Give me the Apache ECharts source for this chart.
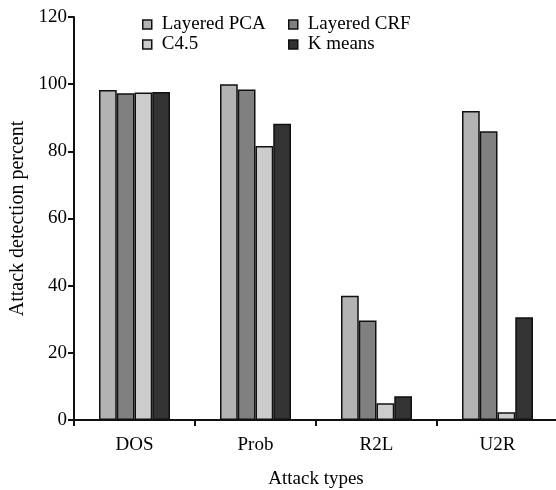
<!DOCTYPE html>
<html>
<head>
<meta charset="utf-8">
<script src="https://cdn.jsdelivr.net/npm/echarts@6/dist/echarts.min.js"></script>
<style>html,body{margin:0;padding:0;background:#fff}#c{width:556px;height:490px}</style>
</head>
<body>
<div id="c"></div>
<script>
const categories = ['DOS', 'Prob', 'R2L', 'U2R'];
const layeredPCA = [98.3, 100, 37, 92];
const layeredCRF = [97.3, 98.4, 29.6, 86];
const c45 = [97.5, 81.6, 5, 2.3];
const kMeans = [97.7, 88.2, 7.1, 30.6];
const yTicks = { min: 0, max: 120, interval: 20 };

const FONT = 'Liberation Serif';
const colors = { 'Layered PCA': '#b3b3b3', 'Layered CRF': '#808080', 'C4.5': '#cccccc', 'K means': '#333333' };
function mk(name, data) {
  return {
    name, type: 'bar', data, barWidth: 17.75, barGap: '0%',
    itemStyle: { color: colors[name], borderColor: '#111', borderWidth: 1.5 }
  };
}
const chart = echarts.init(document.getElementById('c'));
const legendCommon = {
  orient: 'vertical', itemWidth: 9, itemHeight: 9, itemGap: 1,
  textStyle: { fontFamily: FONT, fontSize: 19, lineHeight: 19, color: '#000', padding: [0, 0, 0, 5] },
  itemStyle: { borderColor: '#111', borderWidth: 1.5 }, icon: 'rect', padding: 0
};
chart.setOption({
  animation: false,
  backgroundColor: '#fff',
  grid: { left: 74, top: 17, right: -2, bottom: 70, containLabel: false, outerBoundsMode: 'none' },
  legend: [
    Object.assign({ left: 142, top: 15, data: ['Layered PCA', 'C4.5'] }, legendCommon),
    Object.assign({ left: 288, top: 15, data: ['Layered CRF', 'K means'] }, legendCommon)
  ],
  xAxis: {
    type: 'category', data: categories,
    name: 'Attack types', nameLocation: 'middle', nameGap: 50,
    nameTextStyle: { fontFamily: FONT, fontSize: 19, color: '#000' },
    axisLine: { lineStyle: { color: '#111', width: 2 } },
    axisTick: { show: true, length: 6, lineStyle: { color: '#111', width: 2 } },
    axisLabel: { fontFamily: FONT, fontSize: 19, color: '#000', margin: 16 }
  },
  yAxis: {
    type: 'value', min: yTicks.min, max: yTicks.max, interval: yTicks.interval,
    name: 'Attack detection percent', nameLocation: 'middle', nameGap: 44, nameRotate: 90,
    nameTextStyle: { fontFamily: FONT, fontSize: 20, color: '#000' },
    axisLine: { show: true, lineStyle: { color: '#111', width: 2 } },
    axisTick: { show: true, length: 6, lineStyle: { color: '#111', width: 2 } },
    axisLabel: { fontFamily: FONT, fontSize: 19, color: '#000', margin: 7 },
    splitLine: { show: false }
  },
  series: [mk('Layered PCA', layeredPCA), mk('Layered CRF', layeredCRF), mk('C4.5', c45), mk('K means', kMeans)]
});
</script>
</body>
</html>
